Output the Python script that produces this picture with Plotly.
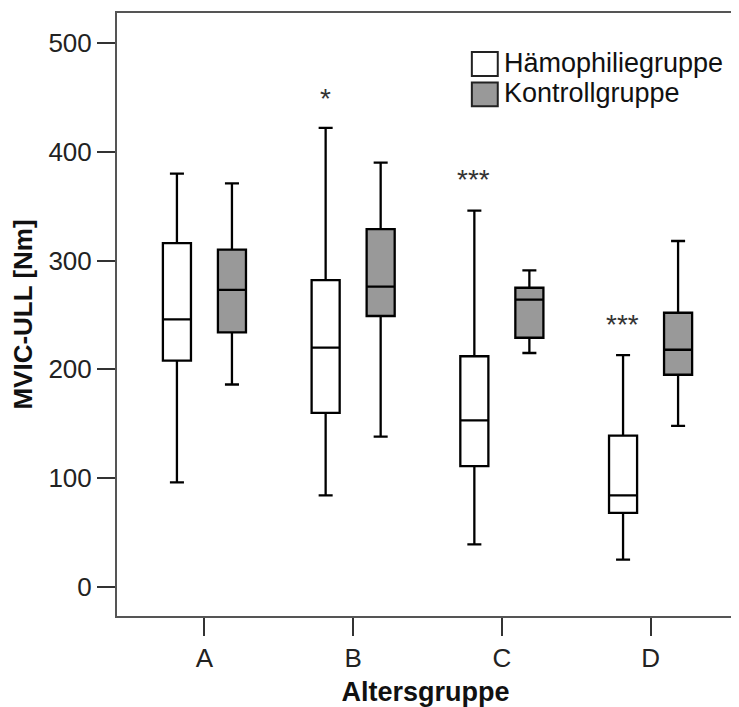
import plotly.graph_objects as go

categories = ["A", "B", "C", "D"]
series_names = ["Hämophiliegruppe", "Kontrollgruppe"]

haem_lower = [96, 84, 39, 25]
haem_q1 = [208, 160, 111, 68]
haem_median = [246, 220, 153, 84]
haem_q3 = [316, 282, 212, 139]
haem_upper = [380, 422, 346, 213]

ctrl_lower = [186, 138, 215, 148]
ctrl_q1 = [234, 249, 229, 195]
ctrl_median = [273, 276, 264, 218]
ctrl_q3 = [310, 329, 275, 252]
ctrl_upper = [371, 390, 291, 318]

sig_categories = ["B", "C", "D"]
sig_labels = ["*", "***", "***"]
sig_values = [451, 376, 243]

y_ticks = [0, 100, 200, 300, 400, 500]

FONT = "Liberation Sans, Arial, Helvetica, sans-serif"

fig = go.Figure()
fig.add_trace(go.Box(
    name=series_names[0], x=categories,
    lowerfence=haem_lower, q1=haem_q1, median=haem_median, q3=haem_q3, upperfence=haem_upper,
    fillcolor="#ffffff", line=dict(color="#000000", width=2.3), whiskerwidth=0.5,
    boxpoints=False, showlegend=False,
))
fig.add_trace(go.Box(
    name=series_names[1], x=categories,
    lowerfence=ctrl_lower, q1=ctrl_q1, median=ctrl_median, q3=ctrl_q3, upperfence=ctrl_upper,
    fillcolor="#999999", line=dict(color="#000000", width=2.3), whiskerwidth=0.5,
    boxpoints=False, showlegend=False,
))

for c, lab, v in zip(sig_categories, sig_labels, sig_values):
    fig.add_annotation(x=c, y=v, text=lab, showarrow=False, xshift=-28, yshift=-2,
                       font=dict(family=FONT, size=28, color="#333333"),
                       xanchor="center", yanchor="middle")

# manual legend (large swatches like the original); plot area spans 619 x 604 px
legend_fills = ["#ffffff", "#999999"]
for i, (name, fill) in enumerate(zip(series_names, legend_fills)):
    yc = 51 + 30.5 * i
    fig.add_shape(type="rect", xref="paper", yref="paper",
                  x0=(473 - 117) / 619, x1=(499 - 117) / 619,
                  y0=(604 - (yc + 12)) / 604, y1=(604 - (yc - 12)) / 604,
                  line=dict(color="#222222", width=2), fillcolor=fill)
    fig.add_annotation(xref="paper", yref="paper", x=(503 - 117) / 619, y=(604 - yc + 1) / 604,
                       text=name, showarrow=False, xanchor="left", yanchor="middle",
                       font=dict(family=FONT, size=27, color="#111111"))

axis_common = dict(showline=True, mirror=True, linecolor="#555555", linewidth=2,
                   ticks="outside", ticklen=18, tickwidth=1.5, tickcolor="#333333",
                   showgrid=False, zeroline=False,
                   tickfont=dict(family=FONT, size=26, color="#222222"))

fig.update_layout(
    width=731, height=699,
    margin=dict(l=109, r=3, t=4, b=91),
    paper_bgcolor="white", plot_bgcolor="white",
    boxmode="group", boxgap=0.26, boxgroupgap=0.49,
    xaxis=dict(range=[-0.588, 3.561], categoryorder="array", categoryarray=categories,
               title=dict(text="<b>Altersgruppe</b>", standoff=12,
                          font=dict(family=FONT, size=27, color="#111111")),
               **axis_common),
    yaxis=dict(range=[-26.9, 527.7], tickvals=y_ticks,
               title=dict(text="<b>MVIC-ULL [Nm]</b>", standoff=11,
                          font=dict(family=FONT, size=26, color="#111111")),
               **axis_common),
    font=dict(family=FONT),
)

fig.write_html("out.html")
